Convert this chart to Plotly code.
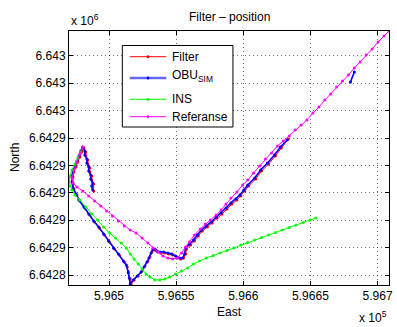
import plotly.graph_objects as go

# ---- Position tracks (East / North, metres) ----
filter_east = [596488.6, 596487.9, 596488.6, 596487.1, 596487.1, 596485.7, 596485.7, 596484.2, 596484.2,
               596482.7, 596482.7, 596481.3, 596479.8, 596478.3, 596476.8, 596475.4, 596473.9, 596473.2,
               596473.2, 596473.9, 596476.1, 596478.3, 596482.0, 596485.7, 596489.3, 596493.0, 596496.7,
               596500.4, 596504.0, 596507.7, 596511.4, 596513.6, 596514.3, 596515.8, 596516.5, 596518.7,
               596521.7, 596524.6, 596526.8, 596529.0, 596530.5, 596532.0, 596533.5, 596534.9, 596536.4,
               596538.6, 596541.5, 596544.5, 596547.4, 596550.4, 596553.3, 596555.5, 596557.0, 596557.7,
               596560.7, 596563.6, 596566.5, 596569.5, 596573.2, 596576.8, 596580.5, 596584.2, 596587.9,
               596591.5, 596595.2, 596598.2, 596601.1, 596604.0, 596609.2, 596613.6, 596618.8, 596623.9,
               596628.3, 596633.5]
filter_north = [6642901.3, 6642904.2, 6642906.4, 6642909.3, 6642912.3, 6642915.2, 6642918.1, 6642921.0,
                6642923.9, 6642926.9, 6642929.8, 6642932.7, 6642929.8, 6642926.1, 6642922.5, 6642918.8,
                6642915.2, 6642911.5, 6642907.2, 6642902.8, 6642898.4, 6642894.0, 6642888.9, 6642883.8,
                6642878.7, 6642874.3, 6642869.2, 6642864.1, 6642859.0, 6642854.6, 6642849.5, 6642845.8,
                6642841.5, 6642837.1, 6642833.4, 6642836.4, 6642839.3, 6642842.9, 6642846.6, 6642850.2,
                6642853.1, 6642856.8, 6642858.2, 6642858.2, 6642856.8, 6642856.1, 6642856.1, 6642855.3,
                6642854.6, 6642853.1, 6642851.7, 6642852.4, 6642855.3, 6642859.0, 6642861.9, 6642864.8,
                6642868.5, 6642872.1, 6642875.0, 6642878.0, 6642881.6, 6642884.5, 6642888.2, 6642891.8,
                6642894.7, 6642897.7, 6642901.3, 6642905.0, 6642910.1, 6642915.9, 6642921.0, 6642926.9,
                6642932.7, 6642939.3]

obu_east = [596487.9, 596487.1, 596487.9, 596486.4, 596486.4, 596484.9, 596484.9, 596483.5, 596483.5,
            596482.0, 596482.0, 596480.5, 596479.0, 596477.6, 596476.1, 596474.6, 596473.2, 596472.4,
            596472.4, 596473.2, 596475.4, 596477.6, 596481.3, 596484.9, 596488.6, 596492.3, 596496.0,
            596499.6, 596503.3, 596507.0, 596510.7, 596512.9, 596514.3, 596515.1, 596515.8, 596518.0,
            596521.0, 596523.9, 596526.1, 596528.3, 596529.8, 596531.3, 596532.7, 596534.2, 596535.7,
            596537.9, 596540.8, 596543.8, 596546.7, 596549.6, 596552.6, 596554.8, 596556.3, 596557.0,
            596559.9, 596562.9, 596565.8, 596568.8, 596572.4, 596576.1, 596579.8, 596583.5, 596587.1,
            596590.8, 596594.5, 596597.4, 596600.4, 596603.3, 596608.5, 596612.9, 596618.0, 596623.2,
            596627.6, 596632.7, None, 596679.8, 596682.7]
obu_north = [6642902.0, 6642905.0, 6642907.2, 6642910.1, 6642913.0, 6642915.9, 6642918.8, 6642921.8,
             6642924.7, 6642927.6, 6642930.5, 6642933.4, 6642930.5, 6642926.9, 6642923.2, 6642919.6,
             6642915.9, 6642912.3, 6642907.9, 6642903.5, 6642899.1, 6642894.7, 6642889.6, 6642884.5,
             6642879.4, 6642875.0, 6642869.9, 6642864.8, 6642859.7, 6642855.3, 6642850.2, 6642847.3,
             6642842.2, 6642837.8, 6642833.4, 6642836.4, 6642839.3, 6642842.2, 6642845.8, 6642849.5,
             6642852.4, 6642856.1, 6642859.0, 6642859.0, 6642857.5, 6642856.8, 6642856.8, 6642856.1,
             6642855.3, 6642853.9, 6642852.4, 6642852.4, 6642855.3, 6642859.7, 6642862.6, 6642865.5,
             6642869.2, 6642872.8, 6642875.8, 6642878.7, 6642882.3, 6642885.3, 6642888.9, 6642892.6,
             6642895.5, 6642898.4, 6642902.0, 6642905.7, 6642910.8, 6642916.6, 6642921.8, 6642927.6,
             6642933.4, 6642938.5, None, 6642980.9, 6642988.2]

ins_east = [596479.0, 596476.8, 596474.6, 596472.4, 596471.0, 596470.2, 596471.0, 596472.4, 596474.6,
            596478.3, 596482.7, 596487.1, 596491.5, 596496.0, 596500.4, 596504.8, 596509.2, 596512.9,
            596515.8, 596518.7, 596521.7, 596524.6, 596527.6, 596530.5, 596534.2, 596537.9, 596541.5,
            596545.2, 596549.6, 596554.0, 596558.5, 596562.9, 596567.3, 596572.4, 596577.6, 596582.7,
            596587.9, 596593.0, 596598.2, 596603.3, 596608.5, 596613.6, 596618.8, 596623.9, 596629.0,
            596634.2, 596639.3, 596644.5, 596649.6, 596654.0]
ins_north = [6642929.8, 6642925.4, 6642921.0, 6642916.6, 6642912.3, 6642908.6, 6642905.0, 6642902.0,
             6642898.4, 6642894.7, 6642889.6, 6642884.5, 6642880.1, 6642875.0, 6642870.7, 6642867.0,
             6642863.4, 6642859.7, 6642855.3, 6642851.7, 6642848.0, 6642844.4, 6642840.7, 6642838.5,
             6642836.4, 6642836.4, 6642837.1, 6642838.5, 6642840.7, 6642842.9, 6642845.1, 6642848.0,
             6642850.2, 6642852.4, 6642854.2, 6642856.1, 6642857.9, 6642859.7, 6642861.9, 6642863.7,
             6642865.5, 6642867.4, 6642869.2, 6642871.0, 6642872.8, 6642874.7, 6642876.5, 6642878.3,
             6642880.1, 6642881.6]

ref_east = [596480.5, 596478.3, 596476.1, 596473.9, 596472.4, 596473.2, 596476.1, 596480.5, 596484.9,
            596489.3, 596493.8, 596498.2, 596502.6, 596507.0, 596511.4, 596515.8, 596520.2, 596524.6,
            596529.0, 596532.7, 596536.4, 596540.1, 596543.8, 596547.4, 596551.1, 596554.0, 596557.0,
            596559.9, 596563.6, 596568.0, 596571.7, 596575.4, 596579.8, 596583.5, 596587.1, 596590.8,
            596595.2, 596599.6, 596603.3, 596607.7, 596612.1, 596616.5, 596621.0, 596625.4, 596629.8,
            596634.2, 596638.6, 596643.0, 596647.4, 596651.8, 596656.3, 596660.7, 596665.1, 596669.5,
            596673.9, 596678.3, 596682.7, 596687.1, 596691.5, 596696.0, 596700.4, 596704.8, 596708.5]
ref_north = [6642933.4, 6642928.3, 6642922.5, 6642916.6, 6642910.8, 6642907.2, 6642904.2, 6642901.3,
             6642897.7, 6642894.0, 6642890.4, 6642886.7, 6642883.1, 6642879.4, 6642875.8, 6642872.8,
             6642870.7, 6642867.0, 6642863.4, 6642859.7, 6642856.8, 6642853.9, 6642852.4, 6642851.7,
             6642852.4, 6642856.1, 6642860.4, 6642864.1, 6642869.2, 6642873.6, 6642877.2, 6642880.1,
             6642883.8, 6642887.4, 6642891.8, 6642896.2, 6642900.6, 6642905.7, 6642909.3, 6642914.5,
             6642919.6, 6642924.7, 6642929.1, 6642934.2, 6642937.8, 6642941.5, 6642945.8, 6642949.5,
             6642953.1, 6642958.2, 6642962.6, 6642967.7, 6642972.1, 6642977.2, 6642981.6, 6642986.0,
             6642991.1, 6642995.5, 6643000.6, 6643005.0, 6643010.1, 6643014.5, 6643018.1]

# ---- Axis ticks (scaled labels, with a common exponent shown separately) ----
east_ticks = [596500, 596550, 596600, 596650, 596700]
east_tick_text = ["5.965", "5.9655", "5.966", "5.9665", "5.967"]
north_ticks = [6642840, 6642860, 6642880, 6642900, 6642920, 6642940, 6642960, 6642980, 6643000]
north_tick_text = ["6.6428", "6.6429", "6.6429", "6.6429", "6.6429", "6.6429", "6.643", "6.643", "6.643"]

east_range = [596470.2, 596708.5]
north_range = [6642832.7, 6643018.1]

FONT = "Liberation Sans, Arial, Helvetica, sans-serif"

series = [
    ("Filter", filter_east, filter_north, "#ff0000", 1.0),
    ("OBU<sub>SIM</sub>", obu_east, obu_north, "#0000ff", 1.6),
    ("INS", ins_east, ins_north, "#00ff00", 1.0),
    ("Referanse", ref_east, ref_north, "#ff00ff", 1.0),
]

fig = go.Figure()
for name, east, north, color, width in series:
    fig.add_trace(go.Scatter(
        x=east, y=north, name=name, mode="lines+markers",
        line=dict(color=color, width=width),
        marker=dict(color=color, size=3),
        connectgaps=False, showlegend=False,
    ))

axis_common = dict(
    showline=True, linecolor="black", linewidth=1, mirror="allticks",
    ticks="inside", ticklen=4, tickcolor="black", tickwidth=1,
    showgrid=True, gridcolor="rgba(0,0,0,0.55)", gridwidth=1, griddash="1px,3px",
    zeroline=False, tickfont=dict(family=FONT, size=12, color="black"),
)

fig.update_xaxes(range=east_range, tickmode="array", tickvals=east_ticks,
                 ticktext=east_tick_text, **axis_common)
fig.update_yaxes(range=north_range, tickmode="array", tickvals=north_ticks,
                 ticktext=north_tick_text, **axis_common)

# ---- Boxed legend in the upper-left of the axes (paper coordinates) ----
L_MARGIN, T_MARGIN, PLOT_W, PLOT_H = 69, 31, 324, 254


def px_x(p):
    return (p - L_MARGIN) / PLOT_W


def px_y(p):
    return 1 - (p - T_MARGIN) / PLOT_H


shapes = [dict(type="rect", xref="paper", yref="paper",
               x0=px_x(123), x1=px_x(235), y0=px_y(127), y1=px_y(45.5),
               line=dict(color="black", width=1), fillcolor="white", layer="above")]
annotations = []
legend_rows = [(56.7, 56.7), (78.0, 75.5), (99.3, 99.3), (116.7, 116.7)]
legend_line_w = [1.0, 2.4, 1.0, 1.0]
legend_line_col = ["#ff0000", "rgba(0,0,255,0.6)", "#00ff00", "#ff00ff"]
for (name, _, _, color, _), (ly, ty), lw, lc in zip(series, legend_rows, legend_line_w, legend_line_col):
    shapes.append(dict(type="line", xref="paper", yref="paper",
                       x0=px_x(130.5), x1=px_x(167.5), y0=px_y(ly), y1=px_y(ly),
                       line=dict(color=lc, width=lw), layer="above"))
    shapes.append(dict(type="circle", xref="paper", yref="paper",
                       x0=px_x(147.8), x1=px_x(150.2), y0=px_y(ly + 1.2), y1=px_y(ly - 1.2),
                       line=dict(color=color, width=0.5), fillcolor=color, layer="above"))
    annotations.append(dict(text=name, xref="paper", yref="paper",
                            x=px_x(171), y=px_y(ty), xanchor="left", yanchor="middle",
                            showarrow=False, font=dict(family=FONT, size=12, color="black")))

annotations += [
    dict(text="Filter \u2013 position", xref="paper", yref="paper", x=0.5, y=1,
         yshift=14, xanchor="center", yanchor="middle", showarrow=False,
         font=dict(family=FONT, size=12)),
    dict(text="East", xref="paper", yref="paper", x=0.5, y=0, yshift=-27,
         xanchor="center", yanchor="middle", showarrow=False,
         font=dict(family=FONT, size=12)),
    dict(text="North", xref="paper", yref="paper", x=0, y=0.5, xshift=-54,
         xanchor="center", yanchor="middle", textangle=-90, showarrow=False,
         font=dict(family=FONT, size=12)),
    dict(text="x 10<sup>6</sup>", xref="paper", yref="paper", x=0, y=1, yshift=11,
         xanchor="left", yanchor="middle", showarrow=False,
         font=dict(family=FONT, size=12)),
    dict(text="x 10<sup>5</sup>", xref="paper", yref="paper", x=1, y=0, yshift=-32,
         xanchor="right", yanchor="middle", showarrow=False,
         font=dict(family=FONT, size=12)),
]

fig.update_layout(
    width=397, height=327,
    margin=dict(l=L_MARGIN, r=4, t=T_MARGIN, b=42),
    paper_bgcolor="white", plot_bgcolor="white",
    font=dict(family=FONT, size=12, color="black"),
    showlegend=False,
    shapes=shapes,
    annotations=annotations,
)

fig.write_html("out.html")
